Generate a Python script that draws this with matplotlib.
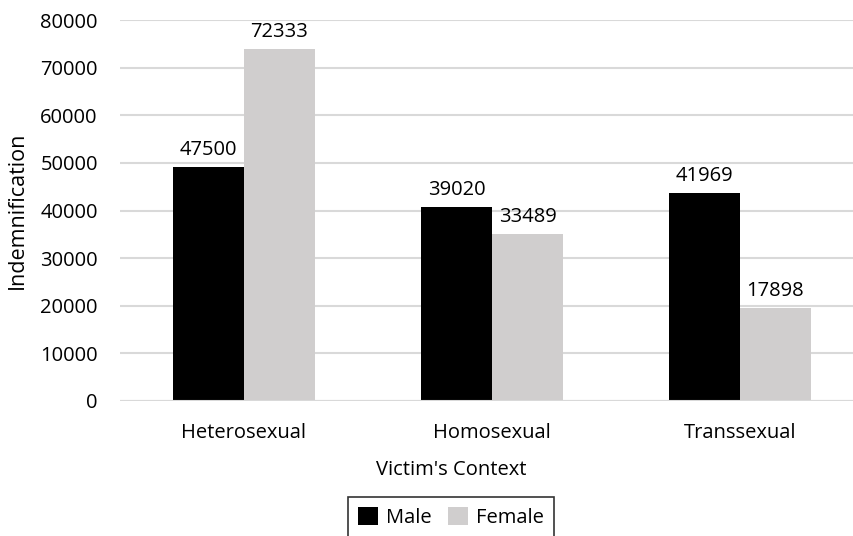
import matplotlib
matplotlib.use("Agg")
import matplotlib.pyplot as plt
import numpy as np

plt.rcParams['font.family'] = ['Open Sans', 'DejaVu Sans']

# data
categories = ["Heterosexual", "Homosexual", "Transsexual"]
male_labels = [47500, 39020, 41969]
female_labels = [72333, 33489, 17898]
# bars in the source are drawn a little taller than their labels
male_heights = [49220, 40690, 43630]
female_heights = [73950, 35080, 19470]
yticks = [0, 10000, 20000, 30000, 40000, 50000, 60000, 70000, 80000]

fig = plt.figure(figsize=(8.54, 5.36), dpi=100)
ax = fig.add_axes([120 / 854, 135 / 536, 744 / 854, 381 / 536])

x = np.arange(len(categories))
w = 0.286
ax.bar(x - w / 2, male_heights, w, color='black', label='Male', zorder=2)
ax.bar(x + w / 2, female_heights, w, color='#d0cece', label='Female', zorder=2)

# value labels
for i in range(len(categories)):
    ax.annotate(str(male_labels[i]), (x[i] - w / 2, male_heights[i]),
                xytext=(0, 5), textcoords='offset points',
                ha='center', va='bottom', fontsize=14.5)
    ax.annotate(str(female_labels[i]), (x[i] + w / 2, female_heights[i]),
                xytext=(0, 5), textcoords='offset points',
                ha='center', va='bottom', fontsize=14.5)

ax.set_xlim(-0.5, 2.5)
ax.set_ylim(0, 80000)
ax.set_yticks(yticks)
ax.set_xticks(x)
ax.set_xticklabels(categories)
ax.tick_params(axis='both', length=0, labelsize=14.5)
ax.tick_params(axis='y', pad=16)
ax.tick_params(axis='x', pad=16)
ax.yaxis.grid(True, color='#d9d9d9', linewidth=1.5, zorder=0)
ax.axhline(0, color='#d9d9d9', linewidth=1.5, zorder=3)
for s in ax.spines.values():
    s.set_visible(False)

ax.set_ylabel("Indemnification", fontsize=15.5)
ax.yaxis.set_label_coords(-92 / 744, 0.5)
fig.text(451 / 854, 1 - 470 / 536, "Victim's Context", ha='center', va='center',
         fontsize=14.5)

leg = fig.legend(loc='upper center', bbox_to_anchor=(451 / 854, 1 - 497 / 536),
                 ncol=2, fontsize=14.5, frameon=True, fancybox=False,
                 handlelength=1.0, handleheight=1.0, handletextpad=0.4,
                 columnspacing=0.8, borderpad=0.52, borderaxespad=0)
leg.get_frame().set_edgecolor('black')
leg.get_frame().set_linewidth(1.2)

fig.savefig("out.png", dpi=100)
